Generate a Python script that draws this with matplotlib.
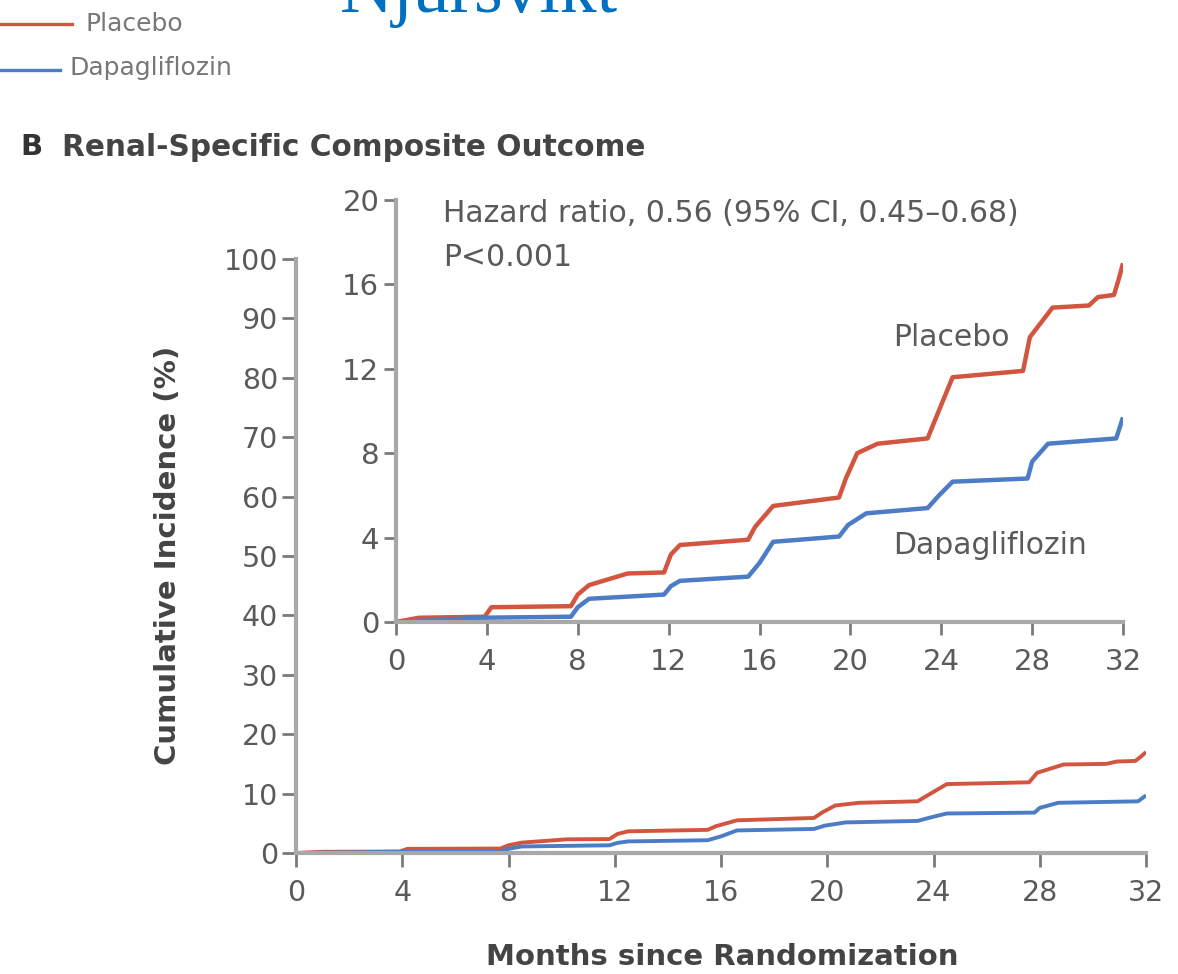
import matplotlib.pyplot as plt

W, H = 1178, 974

# curves (months since randomization, cumulative incidence %)
placebo_months = [0, 1.0, 3.9, 4.2, 7.7, 8.0, 8.5, 10.2, 11.8, 12.1, 12.5, 15.5, 15.8, 16.6,
                  19.5, 19.8, 20.3, 21.2, 23.4, 23.7, 24.5, 27.6, 27.9, 28.9, 30.5, 30.9,
                  31.6, 31.8, 32.0]
placebo_pct = [0, 0.2, 0.25, 0.7, 0.75, 1.3, 1.75, 2.3, 2.35, 3.2, 3.65, 3.9, 4.5, 5.5,
               5.9, 6.8, 8.0, 8.45, 8.7, 9.5, 11.6, 11.9, 13.5, 14.9, 15.0, 15.4,
               15.5, 16.2, 17.0]
dapa_months = [0, 2.0, 3.5, 7.7, 8.0, 8.5, 11.8, 12.1, 12.5, 15.5, 16.0, 16.6, 19.5, 19.9,
               20.7, 23.4, 23.9, 24.5, 27.8, 28.0, 28.7, 31.7, 32.0]
dapa_pct = [0, 0.1, 0.2, 0.25, 0.7, 1.1, 1.3, 1.7, 1.95, 2.15, 2.8, 3.8, 4.05, 4.6,
            5.15, 5.4, 6.0, 6.65, 6.8, 7.6, 8.45, 8.7, 9.7]

x_ticks = [0, 4, 8, 12, 16, 20, 24, 28, 32]
main_y_ticks = [0, 10, 20, 30, 40, 50, 60, 70, 80, 90, 100]
inset_y_ticks = [0, 4, 8, 12, 16, 20]

RED = '#d2563f'
BLUE = '#4d7cc6'
SPINE = '#a8a8a8'
TICK = '#7a7a7a'
TXT = '#5a5a5a'

plt.rcParams['font.family'] = ['DejaVu Sans']


def px(x0, y0, x1, y1):
    # pixel box -> figure fraction rect
    return [x0 / W, 1 - y1 / H, (x1 - x0) / W, (y1 - y0) / H]


def style(ax, xlen, ylen, size, xpad):
    for s in ['top', 'right']:
        ax.spines[s].set_visible(False)
    for s in ['left', 'bottom']:
        ax.spines[s].set_color(SPINE)
        ax.spines[s].set_linewidth(3)
    ax.tick_params(axis='x', length=xlen, width=2, color=TICK, labelsize=size,
                   labelcolor=TXT, pad=xpad)
    ax.tick_params(axis='y', length=ylen, width=2, color=TICK, labelsize=size,
                   labelcolor=TXT, pad=3)


fig = plt.figure(figsize=(W / 100, H / 100), dpi=100)

ax = fig.add_axes(px(296, 259, 1146, 853))
ax.plot(placebo_months, placebo_pct, color=RED, lw=2.8, solid_capstyle='butt')
ax.plot(dapa_months, dapa_pct, color=BLUE, lw=2.8, solid_capstyle='butt')
ax.set_xlim(0, 32)
ax.set_ylim(0, 100)
ax.set_xticks(x_ticks)
ax.set_yticks(main_y_ticks)
style(ax, 10, 10, 20.5, 9)

ins = fig.add_axes(px(396, 200, 1123, 622))
ins.plot(placebo_months, placebo_pct, color=RED, lw=3.2, solid_capstyle='butt')
ins.plot(dapa_months, dapa_pct, color=BLUE, lw=3.2, solid_capstyle='butt')
ins.set_xlim(0, 32)
ins.set_ylim(0, 20)
ins.set_xticks(x_ticks)
ins.set_yticks(inset_y_ticks)
style(ins, 9, 9, 21, 10)
ins.text(443 / W, 1 - 213 / H, 'Hazard ratio, 0.56 (95% CI, 0.45\u20130.68)',
         transform=fig.transFigure, fontsize=21.5, color=TXT, va='center', ha='left')
ins.text(443 / W, 1 - 258 / H, 'P<0.001', transform=fig.transFigure, fontsize=21.5,
         color=TXT, va='center', ha='left')
ins.text(893 / W, 1 - 337 / H, 'Placebo', transform=fig.transFigure, fontsize=21.5,
         color=TXT, va='center', ha='left')
ins.text(893 / W, 1 - 545 / H, 'Dapagliflozin', transform=fig.transFigure, fontsize=21.5,
         color=TXT, va='center', ha='left')

# axis titles placed where the reference has them
fig.text(168 / W, 1 - 555 / H, 'Cumulative Incidence (%)', rotation=90, fontsize=21,
         fontweight='bold', color='#444444', ha='center', va='center')
fig.text(722 / W, 1 - 957 / H, 'Months since Randomization', fontsize=21,
         fontweight='bold', color='#444444', ha='center', va='center')

# panel title and legend
fig.text(20 / W, 1 - 147 / H, 'B', fontsize=21, fontweight='bold', color='#333333',
         va='center')
fig.text(62 / W, 1 - 147 / H, 'Renal-Specific Composite Outcome', fontsize=21.3,
         fontweight='bold', color='#444444', va='center')
fig.add_artist(plt.Line2D([0, 72 / W], [1 - 24 / H] * 2, color=RED, lw=2.4))
fig.add_artist(plt.Line2D([0, 60 / W], [1 - 70 / H] * 2, color=BLUE, lw=2.4))
fig.text(86 / W, 1 - 24 / H, 'Placebo', fontsize=18, color='#777777', va='center')
fig.text(70 / W, 1 - 68 / H, 'Dapagliflozin', fontsize=18, color='#777777', va='center')
fig.text(340 / W, 1 - 12 / H, 'Njursvikt', fontsize=53, color='#0070c0',
         family='Liberation Serif', va='baseline')

fig.savefig('out.png', dpi=100)
